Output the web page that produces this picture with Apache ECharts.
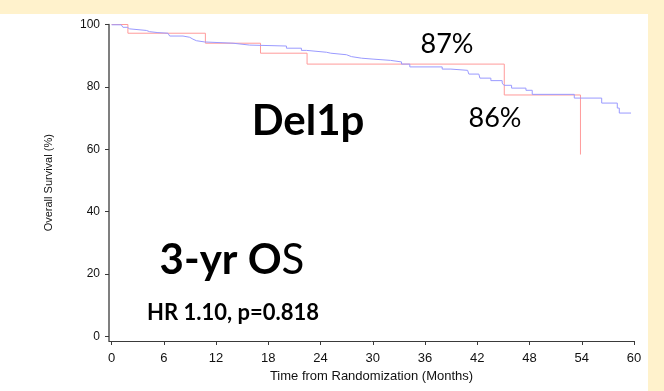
<!DOCTYPE html>
<html>
<head>
<meta charset="utf-8">
<script src="https://cdn.jsdelivr.net/npm/echarts@6/dist/echarts.min.js"></script>
<style>
  html, body { margin: 0; padding: 0; background: #FFF2CC; }
  #chart { width: 664px; height: 391px; }
</style>
</head>
<body>
<div id="chart"></div>
<script>
// Kaplan-Meier overall survival, Del1p subgroup: [months, survival %]
const armRed = [
  [0, 100], [1.87, 97.2], [10.77, 94.0], [17.1, 90.8], [22.45, 87.3],
  [45.1, 77.4], [53.85, 58.3]
];
const armBlue = [
  [0, 99.9], [1.11, 99.6], [1.30, 99.1], [1.80, 98.6], [2.07, 98.1],
  [3.99, 97.7], [4.37, 97.4], [5.32, 97.2], [6.47, 96.6], [6.67, 96.3],
  [8.20, 95.9], [8.97, 95.3], [9.34, 94.8], [9.74, 94.4], [10.69, 94.0],
  [13.94, 93.4], [15.86, 93.1], [20.08, 92.4], [21.80, 91.7], [22.38, 91.1],
  [24.68, 90.8], [25.17, 90.3], [26.98, 89.7], [27.55, 89.2], [28.70, 88.9],
  [30.03, 88.5], [32.03, 88.0], [33.30, 87.3], [34.25, 86.4], [37.97, 85.7],
  [38.97, 85.3], [40.89, 84.7], [41.03, 84.1], [42.18, 83.5], [42.30, 82.8],
  [43.56, 82.0], [44.86, 81.2], [45.06, 80.5], [45.94, 79.6], [47.59, 78.9],
  [48.31, 77.6], [53.14, 76.4], [56.29, 74.8], [58.08, 73.2], [58.31, 71.6],
  [59.66, 71.6]
];
const xTicks = [0, 6, 12, 18, 24, 30, 36, 42, 48, 54, 60];
const yTicks = [0, 20, 40, 60, 80, 100];

const axisColor = '#3a3a3a';
const labelFont = 'Liberation Sans, Arial, sans-serif';
const calloutFont = 'Lato, Open Sans, sans-serif';

const chart = echarts.init(document.getElementById('chart'), null, { renderer: 'canvas' });
chart.setOption({
  animation: false,
  backgroundColor: '#FFF2CC',
  graphic: [
    { type: 'rect', z: -100, silent: true,
      shape: { x: 0, y: 14, width: 648, height: 377 },
      style: { fill: '#ffffff' } },
    { type: 'text', x: 447, y: 44, z: 100,
      style: { text: '87%', font: '27px ' + calloutFont, fill: '#000',
               align: 'center', verticalAlign: 'middle' } },
    { type: 'text', x: 495, y: 118, z: 100,
      style: { text: '86%', font: '27px ' + calloutFont, fill: '#000',
               align: 'center', verticalAlign: 'middle' } },
    { type: 'text', x: 308, y: 121, z: 100,
      style: { text: 'Del1p', font: 'bold 42px ' + calloutFont, fill: '#000',
               align: 'center', verticalAlign: 'middle' } },
    { type: 'text', x: 232, y: 260, z: 100,
      style: {
        text: '{b|3-yr O}{n|S}', align: 'center', verticalAlign: 'middle',
        rich: {
          b: { font: 'bold 42px ' + calloutFont, fill: '#000' },
          n: { font: '42px ' + calloutFont, fill: '#000' }
        }
      } },
    { type: 'text', x: 233, y: 313, z: 100,
      style: { text: 'HR 1.10, p=0.818', font: 'bold 22px ' + calloutFont, fill: '#000',
               align: 'center', verticalAlign: 'middle' } }
  ],
  grid: { left: 109, right: 30, top: 24.5, bottom: 50, containLabel: false },
  xAxis: {
    type: 'value',
    min: -0.3, max: 60,
    name: 'Time from Randomization (Months)',
    nameLocation: 'middle',
    nameGap: 29,
    nameTextStyle: { fontFamily: labelFont, fontSize: 13, color: '#111' },
    axisLine: { show: true, onZero: false, lineStyle: { color: axisColor, width: 1 } },
    axisTick: { show: true, length: 4, customValues: xTicks, lineStyle: { color: axisColor } },
    axisLabel: { customValues: xTicks, margin: 11, fontFamily: labelFont, fontSize: 13, color: '#111' },
    splitLine: { show: false }
  },
  yAxis: {
    type: 'value',
    min: -1.5, max: 100,
    name: 'Overall Survival (%)',
    nameLocation: 'middle',
    nameGap: 55,
    nameRotate: 90,
    nameTextStyle: { fontFamily: labelFont, fontSize: 11, color: '#111' },
    axisLine: { show: true, onZero: false, lineStyle: { color: '#555', width: 1.5 } },
    axisTick: { show: true, length: 4, customValues: yTicks, lineStyle: { color: axisColor } },
    axisLabel: { customValues: yTicks, margin: 9, fontFamily: labelFont, fontSize: 12, color: '#111' },
    splitLine: { show: false }
  },
  series: [
    {
      type: 'line', name: 'A', data: armBlue, step: 'end',
      showSymbol: false, symbol: 'none',
      lineStyle: { color: '#9a9aff', width: 1 }, z: 3
    },
    {
      type: 'line', name: 'B', data: armRed, step: 'end',
      showSymbol: false, symbol: 'none',
      lineStyle: { color: '#ff9a9a', width: 1 }, z: 2
    }
  ]
});
</script>
</body>
</html>
